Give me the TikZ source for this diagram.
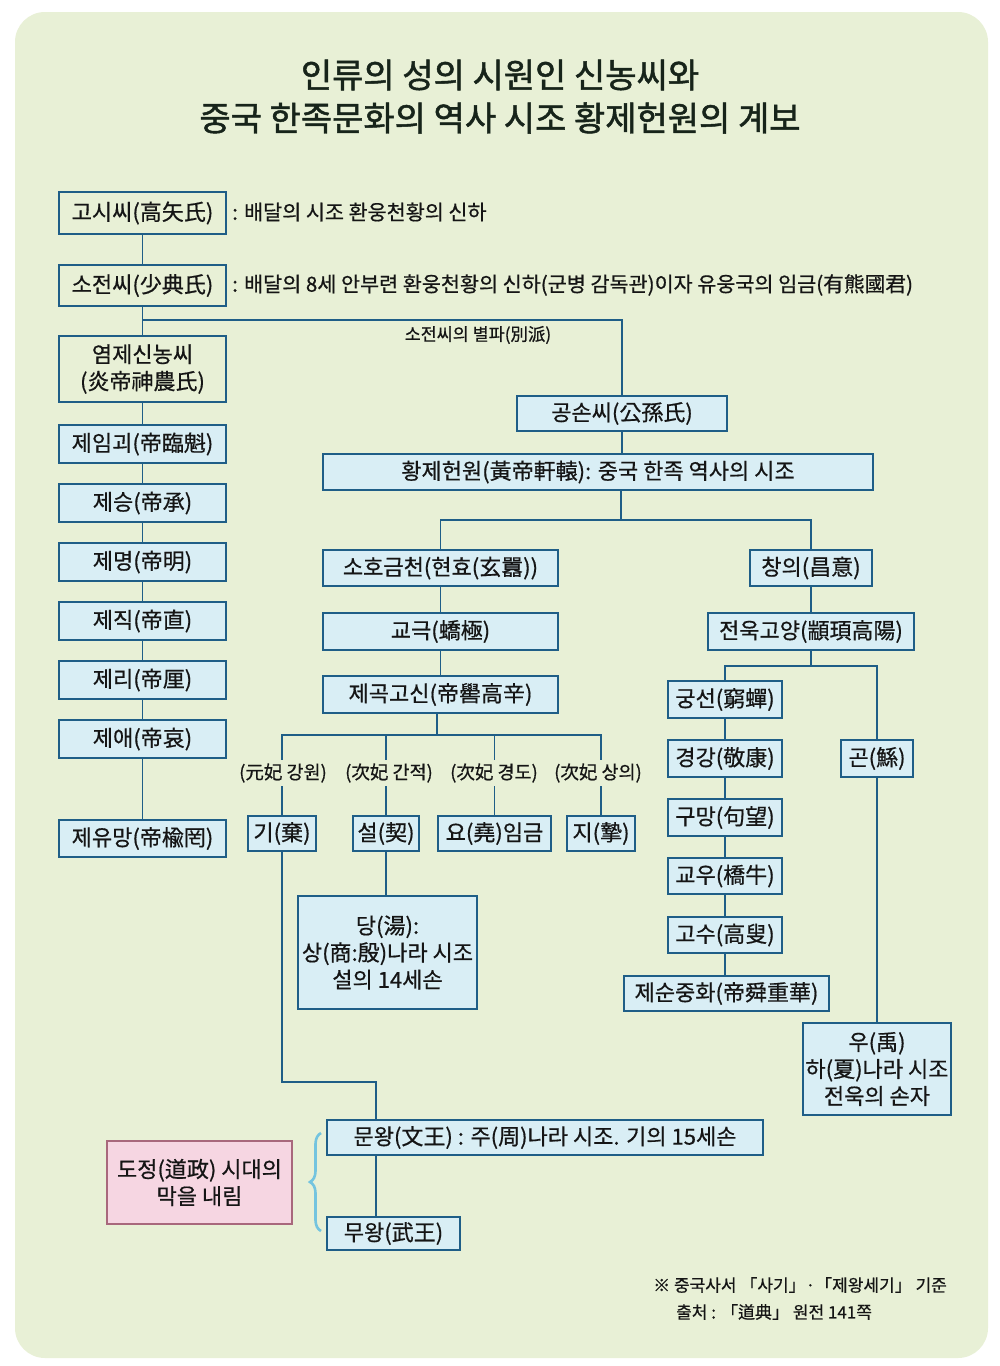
\documentclass[tikz,border=0pt]{standalone}
\usepackage{fontspec}
\setmainfont{Noto Sans CJK KR}[FakeBold=0.6]
\newfontfamily\ttlfont{Noto Sans CJK KR}[FakeBold=1.4]
\usetikzlibrary{decorations.pathreplacing}
\definecolor{bg}{HTML}{E8F0D6}
\definecolor{bline}{HTML}{1F5E87}
\definecolor{bfill}{HTML}{D9EEF5}
\definecolor{pfill}{HTML}{F6D6E2}
\definecolor{pline}{HTML}{A8687C}
\definecolor{brc}{HTML}{74C4DF}
\definecolor{tx}{HTML}{151515}
\definecolor{ttc}{HTML}{17241A}
\newcommand\Bx[7]{\node[#1, minimum width={(#5-#3)*1pt}, minimum height={(#6-#4)*1pt}] (#2) at ({(#3+#5)/2},{(#4+#6)/2}) {#7};}
\begin{document}
\begin{tikzpicture}[x=1pt,y=-1pt,
  box/.style={draw=bline, line width=1.5pt, fill=bfill, inner sep=0pt, text=tx, font=\fontsize{22}{27}\selectfont, align=center},
  pbox/.style={box, fill=bg},
  pinkbox/.style={box, draw=pline, fill=pfill},
  conn/.style={draw=bline, line width=1.5pt},
  lbl/.style={fill=bg, inner xsep=1pt, inner ysep=3pt, text=tx, font=\fontsize{18.5}{20}\selectfont},
  note/.style={text=tx, inner sep=0pt, anchor=west, font=\fontsize{20.7}{24}\selectfont},
  small/.style={text=tx, inner sep=0pt, font=\fontsize{17.4}{20}\selectfont},
  foot/.style={text=tx, inner sep=0pt, anchor=west, font=\fontsize{17}{20}\selectfont},
  ttl/.style={text=ttc, inner sep=0pt, font=\ttlfont\fontsize{34}{40}\selectfont}
]
\useasboundingbox (0,0) rectangle (1000,1366);
\fill[white] (0,0) rectangle (1000,1366);
\fill[bg, rounded corners=30pt] (15,12) rectangle (988,1358);

% title
\node[ttl] (t1) at (500,75) {인류의 성의 시원인 신농씨와};
\node[ttl] (t2) at (500,118) {중국 한족문화의 역사 시조 황제헌원의 계보};

% junctions
\coordinate (j1) at (143,320);
\coordinate (j2) at (621,520);
\coordinate (j3) at (437,735);
\coordinate (j4) at (376,1082);
\coordinate (j5) at (811,666);

% left chain
\Bx{pbox}{gosi}{59}{192}{226}{234}{고시씨(高矢氏)}
\Bx{pbox}{sojeon}{59}{265}{226}{306}{소전씨(少典氏)}
\Bx{pbox}{yeomje}{59}{336}{226}{402}{염제신농씨\\(炎帝神農氏)}
\Bx{box}{imgoe}{59}{425}{226}{463}{제임괴(帝臨魁)}
\Bx{box}{seung}{59}{484}{226}{522}{제승(帝承)}
\Bx{box}{myeong}{59}{543}{226}{581}{제명(帝明)}
\Bx{box}{jik}{59}{602}{226}{640}{제직(帝直)}
\Bx{box}{ri}{59}{661}{226}{699}{제리(帝厘)}
\Bx{box}{ae}{59}{720}{226}{758}{제애(帝哀)}
\Bx{box}{yumang}{59}{820}{226}{857}{제유망(帝楡罔)}

\node[note] (n1) at (232,212) {: 배달의 시조 환웅천황의 신하};
\node[note] (n2) at (232,285) {: 배달의 8세 안부련 환웅천황의 신하(군병 감독관)이자 유웅국의 임금(有熊國君)};

% middle
\Bx{box}{gongson}{517}{396}{727}{431}{공손씨(公孫氏)}
\Bx{box}{hwang}{323}{454}{873}{490}{황제헌원(黃帝軒轅): 중국 한족 역사의 시조}
\Bx{box}{soho}{323}{550}{558}{586}{소호금천(현효(玄囂))}
\Bx{box}{chang}{750}{550}{872}{586}{창의(昌意)}
\Bx{box}{gyogeuk}{323}{613}{558}{650}{교극(蟜極)}
\Bx{box}{jeonuk}{708}{613}{914}{650}{전욱고양(顓頊高陽)}
\Bx{box}{jegok}{323}{676}{558}{713}{제곡고신(帝嚳高辛)}
\Bx{box}{gi}{248}{816}{316}{851}{기(棄)}
\Bx{box}{seol}{353}{816}{419}{851}{설(契)}
\Bx{box}{yo}{438}{816}{551}{851}{요(堯)임금}
\Bx{box}{ji}{567}{816}{635}{851}{지(摯)}
\Bx{box}{dang}{298}{896}{477}{1009}{당(湯):\\상(商:殷)나라 시조\\설의 14세손}

% right
\Bx{box}{gungseon}{668}{681}{782}{718}{궁선(窮蟬)}
\Bx{box}{gyeonggang}{668}{740}{782}{777}{경강(敬康)}
\Bx{box}{gumang}{668}{799}{782}{836}{구망(句望)}
\Bx{box}{gyou}{668}{858}{782}{894}{교우(橋牛)}
\Bx{box}{gosu}{668}{917}{782}{953}{고수(高叟)}
\Bx{box}{jesun}{624}{976}{829}{1011}{제순중화(帝舜重華)}
\Bx{box}{gon}{841}{740}{913}{777}{곤(鯀)}
\Bx{box}{u}{803}{1023}{951}{1115}{우(禹)\\하(夏)나라 시조\\전욱의 손자}

% bottom
\Bx{box}{munwang}{327}{1120}{763}{1155}{문왕(文王) : 주(周)나라 시조. 기의 15세손}
\Bx{box}{muwang}{327}{1217}{460}{1250}{무왕(武王)}
\Bx{pinkbox}{pink}{107}{1141}{292}{1224}{도정(道政) 시대의\\막을 내림}

% connectors (left)
\draw[conn] (gosi) -- (sojeon);
\draw[conn] (sojeon) -- (yeomje);
\draw[conn] (yeomje) -- (imgoe);
\draw[conn] (imgoe) -- (seung);
\draw[conn] (seung) -- (myeong);
\draw[conn] (myeong) -- (jik);
\draw[conn] (jik) -- (ri);
\draw[conn] (ri) -- (ae);
\draw[conn] (ae) -- (yumang);
\draw[conn] (j1) -| (gongson.north);
\node[small] (byeolpa) at (478,335) {소전씨의 별파(別派)};

% connectors (middle)
\draw[conn] (gongson.south) -- (gongson.south |- hwang.north);
\draw[conn] (j2 |- hwang.south) -- (j2);
\draw[conn] (soho.north) |- (j2) -| (chang.north);
\draw[conn] (soho) -- (gyogeuk);
\draw[conn] (gyogeuk) -- (jegok);
\draw[conn] (jegok.south -| j3) -- (j3);
\draw[conn] (gi.north) |- (j3) -| (ji.north);
\draw[conn] (seol.north) -- (seol.north |- j3);
\draw[conn] (yo.north) -- (yo.north |- j3);
\node[lbl] (l1) at (283,773) {(元妃 강원)};
\node[lbl] (l2) at (389,773) {(次妃 간적)};
\node[lbl] (l3) at (494,773) {(次妃 경도)};
\node[lbl] (l4) at (598,773) {(次妃 상의)};
\draw[conn] (seol.south) -- (seol.south |- dang.north);
\draw[conn] (gi.south) |- (j4) -- (j4 |- munwang.north);
\draw[conn] (j4 |- munwang.south) -- (j4 |- muwang.north);

% connectors (right)
\draw[conn] (chang) -- (jeonuk);
\draw[conn] (jeonuk.south) -- (j5);
\draw[conn] (gungseon.north) |- (j5) -| (gon.north);
\draw[conn] (gungseon) -- (gyeonggang);
\draw[conn] (gyeonggang) -- (gumang);
\draw[conn] (gumang) -- (gyou);
\draw[conn] (gyou) -- (gosu);
\draw[conn] (gosu.south) -- (gosu.south |- jesun.north);
\draw[conn] (gon.south) -- (gon.south |- u.north);

% brace
\coordinate (bra) at (321,1231);
\coordinate (brb) at (321,1133);
\draw[brc, line width=2.6pt, decorate, decoration={brace, amplitude=11pt}] (bra) -- (brb);

% footnote
\node[foot] (f1) at (653,1285) {※ 중국사서 「사기」·「제왕세기」 기준};
\node[foot] (f2) at (676,1312) {출처 : 「道典」 원전 141쪽};
\end{tikzpicture}
\end{document}
